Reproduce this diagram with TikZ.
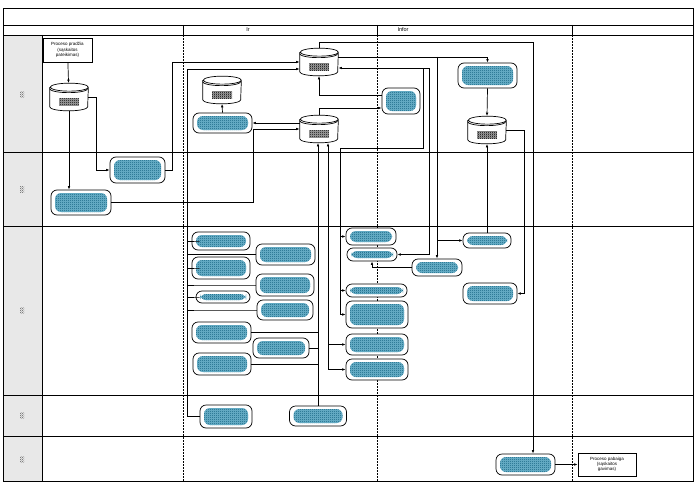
\documentclass[tikz,border=0pt]{standalone}
\usepackage{fontspec}
\setmainfont{Liberation Sans}
\usetikzlibrary{arrows.meta,patterns}

\pgfdeclarepatternformonly{finecheck}{\pgfpointorigin}{\pgfqpoint{2pt}{2pt}}{\pgfqpoint{2pt}{2pt}}{%
  \pgfpathrectangle{\pgfpointorigin}{\pgfqpoint{1pt}{1pt}}%
  \pgfpathrectangle{\pgfqpoint{1pt}{1pt}}{\pgfqpoint{1pt}{1pt}}%
  \pgfusepath{fill}}

\definecolor{lanegray}{RGB}{232,232,232}
\definecolor{hidelight}{RGB}{110,180,205}
\definecolor{hidedark}{RGB}{15,95,125}

% database drum: name, x, y
\newcommand\dbase[3]{%
  \node[dbnode] (#1) at (#2,#3) {};
  \draw[fill=white] ([yshift=-4pt]#1.north west) -- ([yshift=4pt]#1.south west)
    arc[start angle=180,end angle=360,x radius=19pt,y radius=4pt]
    -- ([yshift=-4pt]#1.north east)
    arc[start angle=0,end angle=360,x radius=19pt,y radius=4pt];
  \draw ([yshift=-5.5pt]#1.north west) arc[start angle=180,end angle=360,x radius=19pt,y radius=4pt];
  \fill[gray!70] ([xshift=-10pt,yshift=-15pt]#1.north) rectangle ([xshift=10pt,yshift=5pt]#1.south);
  \fill[pattern=finecheck] ([xshift=-10pt,yshift=-15pt]#1.north) rectangle ([xshift=10pt,yshift=5pt]#1.south);}

\begin{document}
\begin{tikzpicture}[x=1pt,y=1pt,>={Latex[length=3.5pt,width=2.6pt]},
  font=\fontsize{4.5}{5.2}\selectfont, line width=0.7pt,
  sz/.style 2 args={minimum width=#1pt,minimum height=#2pt},
  proc/.style={draw,rounded corners=6pt,fill=white,inner sep=0pt,
    path picture={
      \fill[hidelight] ([shift={(4pt,3pt)}]path picture bounding box.south west) rectangle ([shift={(-4pt,-3pt)}]path picture bounding box.north east);
      \fill[pattern=finecheck,pattern color=hidedark] ([shift={(4pt,3pt)}]path picture bounding box.south west) rectangle ([shift={(-4pt,-3pt)}]path picture bounding box.north east);}},
  dbnode/.style={minimum width=38pt,minimum height=27pt,inner sep=0pt},
  docbox/.style={draw,fill=white,inner sep=1pt,align=center},
  lane/.style={line width=0.9pt},
  divider/.style={dash pattern=on 2pt off 1pt,line width=0.9pt}]

\useasboundingbox (0,0) rectangle (698,-487);

% lanes
\fill[lanegray] (3,-35) rectangle (42,-481);
\draw[lane] (3,-8) rectangle (693,-481);
\draw[lane] (3,-25) -- (693,-25);
\foreach \y in {35,152,226,395,436} \draw[lane] (3,-\y) -- (693,-\y);
\draw[lane] (42,-35) -- (42,-481);
\foreach \x in {183,377,572} {
  \draw[lane] (\x,-25) -- (\x,-35);
  \draw[divider] (\x,-35) -- (\x,-481);
}
\node[font=\fontsize{5.5}{6}\selectfont] (hIr) at (248,-30) {Ir};
\node[font=\fontsize{5.5}{6}\selectfont] (hInf) at (403,-30) {Infor};
\foreach \y in {94,189,310,415,459}
  \fill[pattern=finecheck,pattern color=gray] (20,-\y+3) rectangle (24,-\y-3);

% stores
\dbase{db1}{69}{-97}
\dbase{db2}{319}{-62}
\dbase{db3}{222}{-90}
\dbase{db4}{319}{-129}
\dbase{db5}{487}{-130}

% start and end
\node[docbox,sz={49}{24}] (start) at (67.5,-50) {Proceso pradžia\\(sąskaitos\\pateikimas)};
\node[docbox,sz={58}{23}] (finish) at (607,-464.5) {Proceso pabaiga\\(sąskaitos\\gavimas)};

% steps
\node[proc,sz={59}{20}] (r1) at (222.5,-123) {};
\node[proc,sz={38}{26}] (r2) at (401,-101) {};
\node[proc,sz={59}{25}] (r3) at (487.5,-75.5) {};
\node[proc,sz={55}{26}] (r4) at (137.5,-170) {};
\node[proc,sz={60}{25}] (r5) at (81,-202.5) {};
\node[proc,sz={58}{18}] (l1) at (221,-241) {};
\node[proc,sz={58}{22}] (l2) at (221,-268) {};
\node[proc,sz={54}{12}] (l3) at (223,-297) {};
\node[proc,sz={59}{21}] (l4) at (221.5,-332.5) {};
\node[proc,sz={58}{22}] (l5) at (222,-364) {};
\node[proc,sz={59}{21}] (m1) at (285.5,-254.5) {};
\node[proc,sz={58}{22}] (m2) at (285,-285) {};
\node[proc,sz={56}{20}] (m3) at (285,-310) {};
\node[proc,sz={56}{20}] (m4) at (281,-348) {};
\node[proc,sz={50}{17}] (n1) at (371,-236.5) {};
\node[proc,sz={50}{13}] (n2) at (372,-254.5) {};
\node[proc,sz={50}{17}] (n3) at (437,-267.5) {};
\node[proc,sz={61}{13}] (n4) at (376.5,-290.5) {};
\node[proc,sz={62}{27}] (n5) at (377,-314.5) {};
\node[proc,sz={62}{21}] (n6) at (377,-344.5) {};
\node[proc,sz={62}{21}] (n7) at (377,-369.5) {};
\node[proc,sz={48}{15}] (p1) at (487,-240.5) {};
\node[proc,sz={54}{21}] (p2) at (490,-293.5) {};
\node[proc,sz={52}{23}] (q1) at (226,-416.5) {};
\node[proc,sz={57}{20}] (q2) at (318,-416) {};
\node[proc,sz={59}{21}] (s1) at (525.5,-464.5) {};

% bus points
\coordinate (tapR) at (437,-57);
\coordinate (busB) at (429,-68);
\coordinate (busC) at (423,-148);
\coordinate (busD) at (340,-148);
\coordinate (topS) at (533,-42);
\coordinate (tapD) at ([xshift=9pt]db4.south);

% connectors
\draw[->] (start) -- (db1);
\draw[->] (db1.south) -- (db1.south |- r5.north);
\draw[->] (db1.east) -- ++(8,0) |- (r4.west);
\draw[->] (r4.east) -- ++(7,0) |- (db2.west);
\draw[->] (q1.west) -- ++(-12,0) |- ([yshift=-7pt]db2.west);
\foreach \b in {l1,m1,l2,m2,l3,m3}
  \draw (\b.west) -- (\b.west -| q1.west) -- ++(-12,0);
\draw[->] (r5.east) -| ([xshift=-46pt]db4.west) -- (db4.west);
\draw[->] (db4.west |- r1.east) -- (r1.east);
\draw[->] (r1.north) -- (db3.south);
\draw[->] (db4.north) |- ([yshift=-7pt]r2.west);
\draw[->] ([yshift=6pt]r2.west) -| (db2.south);
\draw[->] (db2.north) |- (topS) -- (topS |- s1.north);
\draw[->] (s1.east) -- (finish.west);
\draw[->] ([yshift=5pt]db2.east) -| (r3.north);
\draw[->] (tapR) |- (p1.west);
\draw[->] (tapR) -- (n3.north);
\draw[->] (r3.south) -- (db5.north);
\draw[->] (p1.north) -- (db5.south);
\draw[->] (db5.east) -| ([xshift=7pt]p2.east) -- (p2.east);
\draw[->] (n3.west) -| (n2.south);
\draw[->] (busB) -- (busB -| db2.east);
\draw[->] (busB) |- (n2.east);
\draw (busC |- busB) -- (busC) -- (busD);
\foreach \b in {n1,n4,n5}
  \draw[->] (busD) |- (\b.west);
\draw[->] (q2.north) -- (q2.north |- db4.south);
\foreach \b in {l4,m4,l5}
  \draw (\b.east) -- (\b.east -| q2.north);
\draw[<->] (tapD) |- (n7.west);
\draw[->] (tapD |- n6.west) -- (n6.west);
\end{tikzpicture}
\end{document}
